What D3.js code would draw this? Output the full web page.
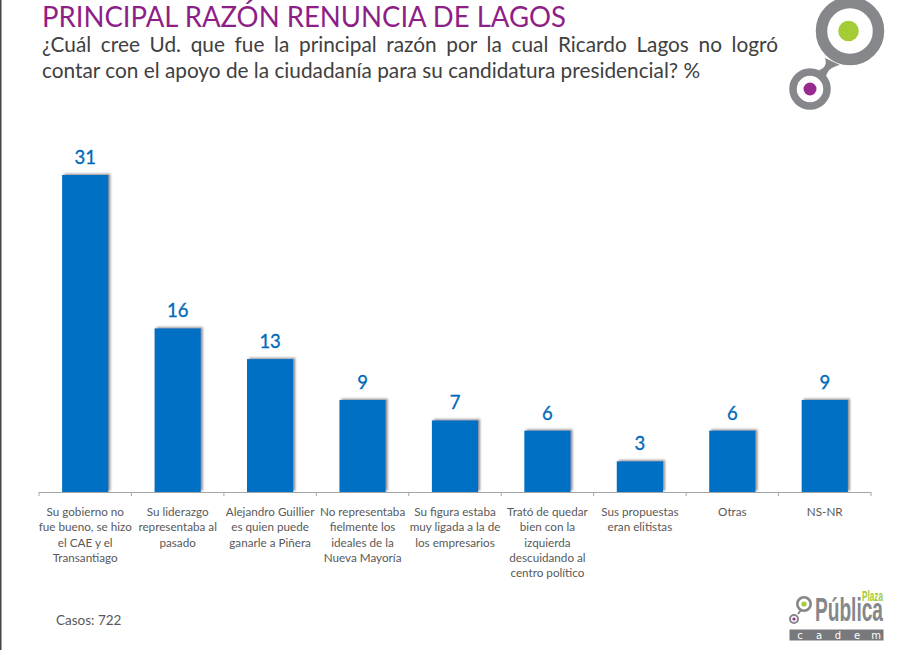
<!DOCTYPE html>
<html>
<head>
<meta charset="utf-8">
<script src="https://cdn.jsdelivr.net/npm/d3@7"></script>
<style>
  html, body { margin: 0; padding: 0; background: #fff; }
  svg { display: block; }
  text { font-family: Lato, "Open Sans", sans-serif; }
</style>
</head>
<body>
<svg id="chart" width="900" height="650"></svg>
<script>
const categories = [
  ["Su gobierno no", "fue bueno, se hizo", "el CAE y el", "Transantiago"],
  ["Su liderazgo", "representaba al", "pasado"],
  ["Alejandro Guillier", "es quien puede", "ganarle a Piñera"],
  ["No representaba", "fielmente los", "ideales de la", "Nueva Mayoría"],
  ["Su figura estaba", "muy ligada a la de", "los empresarios"],
  ["Trató de quedar", "bien con la", "izquierda", "descuidando al", "centro político"],
  ["Sus propuestas", "eran elitistas"],
  ["Otras"],
  ["NS-NR"]
];
const values = [31, 16, 13, 9, 7, 6, 3, 6, 9];

const svg = d3.select("#chart");

const x = d3.scaleBand().domain(d3.range(values.length)).range([39, 871]).paddingInner(0).paddingOuter(0);
const y = d3.scaleLinear().domain([0, 31]).range([492, 175]);
const barW = x.bandwidth() * 0.5;

const defs = svg.append("defs");
const shadow = defs.append("filter").attr("id", "shadow")
  .attr("x", "-20%").attr("y", "-10%").attr("width", "140%").attr("height", "120%");
shadow.append("feDropShadow")
  .attr("dx", 2).attr("dy", -1.2).attr("stdDeviation", 1.3)
  .attr("flood-color", "#555").attr("flood-opacity", 0.65);

// page edge on the left
svg.append("rect").attr("x", 0).attr("y", 0).attr("width", 1.5).attr("height", 650).attr("fill", "#444");

// titles
svg.append("text").attr("x", 42).attr("y", 27)
  .attr("font-size", 28).attr("fill", "#8e1f87")
  .attr("textLength", 524).attr("lengthAdjust", "spacingAndGlyphs")
  .text("PRINCIPAL RAZÓN RENUNCIA DE LAGOS");

const line1 = svg.append("text").attr("x", 42).attr("y", 52)
  .attr("font-size", 20.8).attr("fill", "#404040")
  .text("¿Cuál cree Ud. que fue la principal razón por la cual Ricardo Lagos no logró");
// first line is justified in the original
const gaps = line1.text().split(" ").length - 1;
line1.attr("word-spacing", (736 - line1.node().getComputedTextLength()) / gaps);

svg.append("text").attr("x", 42).attr("y", 78)
  .attr("font-size", 20.8).attr("fill", "#404040")
  .text("contar con el apoyo de la ciudadanía para su candidatura presidencial? %");

// bars
svg.append("g").selectAll("rect").data(values).join("rect")
  .attr("x", (d, i) => x(i) + (x.bandwidth() - barW) / 2)
  .attr("y", d => y(d))
  .attr("width", barW)
  .attr("height", d => y(0) - y(d))
  .attr("fill", "#0070c4")
  .attr("filter", "url(#shadow)");

// value labels
svg.append("g").selectAll("text").data(values).join("text")
  .attr("x", (d, i) => x(i) + x.bandwidth() / 2)
  .attr("y", d => y(d) - 11)
  .attr("text-anchor", "middle")
  .attr("font-size", 18.5)
  .attr("fill", "#0068b8")
  .attr("stroke", "#0068b8").attr("stroke-width", 0.3)
  .text(d => d);

// axis
const axis = svg.append("g").attr("stroke", "#a6a6a6").attr("stroke-width", 1);
axis.append("line").attr("x1", 39).attr("x2", 871).attr("y1", y(0) + 0.5).attr("y2", y(0) + 0.5);
axis.selectAll(".tick").data(d3.range(values.length + 1)).join("line")
  .attr("class", "tick")
  .attr("x1", i => i < values.length ? x(i) : 871)
  .attr("x2", i => i < values.length ? x(i) : 871)
  .attr("y1", y(0)).attr("y2", y(0) + 4);

// category labels
const labels = svg.append("g").selectAll("text").data(categories).join("text")
  .attr("text-anchor", "middle")
  .attr("font-size", 11.7)
  .attr("fill", "#595959");
labels.selectAll("tspan").data((d, i) => d.map(t => ({ t, i }))).join("tspan")
  .attr("x", d => x(d.i) + x.bandwidth() / 2)
  .attr("y", (d, j) => 516 + j * 15.25)
  .text(d => d.t);

svg.append("text").attr("x", 56).attr("y", 625)
  .attr("font-size", 13.5).attr("fill", "#595959")
  .text("Casos: 722");

// top right logo
const grey = "#85878a";
const logoTop = svg.append("g");
logoTop.append("path")
  .attr("d", "M825,58 C827,64 825,68 819,70 L826,77 C827,71 831,67 840,65 Z")
  .attr("fill", grey);
logoTop.append("circle").attr("cx", 850).attr("cy", 31).attr("r", 28.5)
  .attr("fill", "#fff").attr("stroke", grey).attr("stroke-width", 11.5);
logoTop.append("circle").attr("cx", 848.5).attr("cy", 31).attr("r", 10.3).attr("fill", "#a3cc35");
logoTop.append("circle").attr("cx", 810).attr("cy", 89).attr("r", 17)
  .attr("fill", "#fff").attr("stroke", grey).attr("stroke-width", 7.5);
logoTop.append("circle").attr("cx", 810).attr("cy", 89).attr("r", 6.5).attr("fill", "#962a8f");

// bottom right logo
const foot = svg.append("g");
foot.append("line").attr("x1", 798).attr("y1", 614).attr("x2", 801).attr("y2", 610)
  .attr("stroke", grey).attr("stroke-width", 2);
foot.append("circle").attr("cx", 804).attr("cy", 604).attr("r", 6.7)
  .attr("fill", "#fff").attr("stroke", grey).attr("stroke-width", 2.6);
foot.append("circle").attr("cx", 804).attr("cy", 604).attr("r", 2.6).attr("fill", "#a3cc35");
foot.append("circle").attr("cx", 794).attr("cy", 619).attr("r", 4)
  .attr("fill", "#fff").attr("stroke", grey).attr("stroke-width", 2);
foot.append("circle").attr("cx", 794).attr("cy", 619).attr("r", 1.6).attr("fill", "#962a8f");

// condensed wordmarks: squeeze horizontally to the measured width
function squeezed(str, left, base, size, width, fill) {
  const t = foot.append("text")
    .style("font-family", "'Liberation Sans Narrow', 'Liberation Sans', sans-serif")
    .attr("font-size", size).attr("font-weight", 700).attr("fill", fill)
    .text(str);
  const k = width / t.node().getComputedTextLength();
  t.attr("transform", `translate(${left},${base}) scale(${k},1)`);
}
squeezed("Pública", 815, 621, 33.5, 68, grey);
squeezed("Plaza", 862, 601, 14, 21, "#a3cc35");

foot.append("rect").attr("x", 789.5).attr("y", 629.5).attr("width", 94).attr("height", 11).attr("fill", "#77797c");
const cadem = ["c", "a", "d", "e", "m"];
const cademX = d3.scalePoint().domain(cadem).range([800, 876]);
foot.selectAll(".cadem").data(cadem).join("text")
  .attr("class", "cadem")
  .attr("x", d => cademX(d)).attr("y", 638.5)
  .attr("text-anchor", "middle")
  .style("font-family", "'DejaVu Sans', sans-serif")
  .attr("font-size", 10).attr("fill", "#fff")
  .text(d => d);
</script>
</body>
</html>
